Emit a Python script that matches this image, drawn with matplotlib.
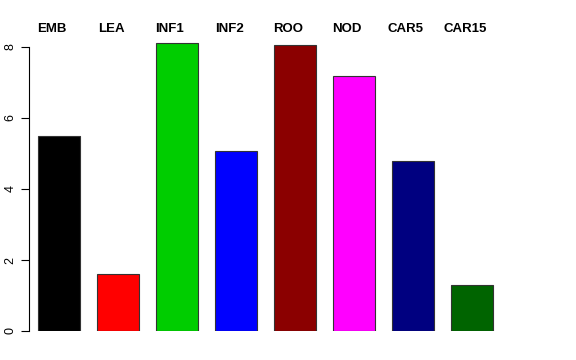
import matplotlib
matplotlib.use('Agg')
import matplotlib.pyplot as plt

plt.rcParams['font.family'] = ['Liberation Sans', 'DejaVu Sans']

# dados
tecidos = ['EMB', 'LEA', 'INF1', 'INF2', 'ROO', 'NOD', 'CAR5', 'CAR15']
valores = [5.50, 1.61, 8.11, 5.08, 8.06, 7.17, 4.78, 1.30]
cores = ['#000000', '#FF0000', '#00CD00', '#0000FF', '#8B0000', '#FF00FF', '#000080', '#006400']

W, H = 576, 360
fig = plt.figure(figsize=(W / 100, H / 100), dpi=100)

# eixo: y=0 no pixel 331, y=8 no pixel 47
px_unid = (331 - 47) / 8
topo = 8.6
base_px = 331
topo_px = base_px - topo * px_unid
esq_px, dir_px = 29, 560
ax = fig.add_axes([esq_px / W, 1 - base_px / H, (dir_px - esq_px) / W, (base_px - topo_px) / H])

passo = 59.0  # px entre barras
x = list(range(len(tecidos)))
ax.bar(x, valores, width=42 / passo, color=cores, edgecolor='#333333', linewidth=0.8)

ax.set_xlim((esq_px - 59) / passo, (dir_px - 59) / passo)
ax.set_ylim(0, topo)

for s in ['top', 'right', 'bottom']:
    ax.spines[s].set_visible(False)
ax.spines['left'].set_bounds(0, 8)
ax.spines['left'].set_linewidth(0.8)
ax.set_xticks([])
ax.set_yticks([0, 2, 4, 6, 8])
ax.tick_params(axis='y', length=6, width=0.8, pad=3, labelsize=9)
for lbl in ax.get_yticklabels():
    lbl.set_rotation(90)
    lbl.set_va('center')

# rótulos em negrito acima das barras
y_txt = (base_px - 29.5) / px_unid
for i, nome in enumerate(tecidos):
    ax.text(i - 7 / passo, y_txt, nome, ha='center', va='center',
            fontsize=9.5, fontweight='bold', clip_on=False)

fig.savefig('out.png', dpi=100)
